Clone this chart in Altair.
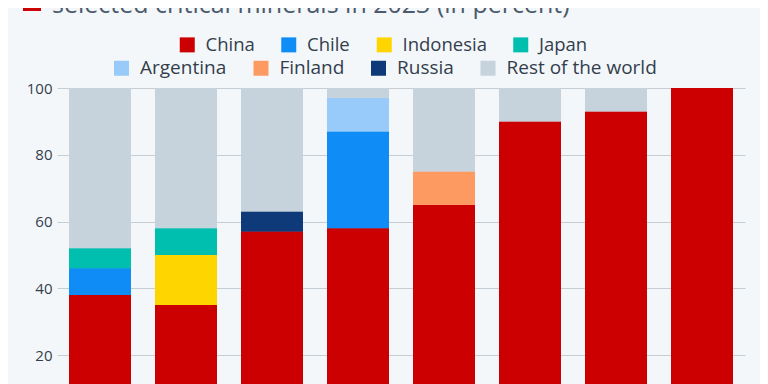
import altair as alt
import pandas as pd

minerals = ["Copper", "Nickel", "Aluminium", "Lithium", "Cobalt", "Rare earths", "Graphite", "Gallium"]
countries = ["China", "Chile", "Indonesia", "Japan", "Argentina", "Finland", "Russia", "Rest of the world"]
colors = ["#cc0000", "#0f8cf5", "#ffd500", "#00bfae", "#99cbfa", "#fd9a61", "#0e3a7a", "#c7d3dc"]

china = [38, 35, 57, 58, 65, 90, 93, 100]
chile = [8, 0, 0, 29, 0, 0, 0, 0]
indonesia = [0, 15, 0, 0, 0, 0, 0, 0]
japan = [6, 8, 0, 0, 0, 0, 0, 0]
argentina = [0, 0, 0, 10, 0, 0, 0, 0]
finland = [0, 0, 0, 0, 10, 0, 0, 0]
russia = [0, 0, 6, 0, 0, 0, 0, 0]
rest = [48, 42, 37, 3, 25, 10, 7, 0]

title_text = "selected critical minerals in 2023 (in percent)"

series = [china, chile, indonesia, japan, argentina, finland, russia, rest]
rows = []
for ci, (c, vals) in enumerate(zip(countries, series)):
    for m, v in zip(minerals, vals):
        if v > 0:
            rows.append({"mineral": m, "country": c, "value": v, "rank": ci})
df = pd.DataFrame(rows)

FONT = "Open Sans"

def bars(legend):
    return alt.Chart(df).mark_bar().encode(
        x=alt.X("mineral:N", sort=minerals, title=None,
                scale=alt.Scale(paddingInner=0.28, paddingOuter=0.14),
                axis=alt.Axis(labelFontSize=15, labelFont=FONT, labelColor="#333e4d",
                              domain=False, ticks=False, labelAngle=0)),
        y=alt.Y("value:Q", stack="zero", title=None,
                scale=alt.Scale(domain=[0, 100]),
                axis=alt.Axis(values=[0, 20, 40, 60, 80, 100], labelFontSize=15, labelFont=FONT,
                              labelColor="#333e4d", domain=False, ticks=False, labelPadding=5,
                              gridColor="#c5cdd5", gridWidth=1)),
        color=alt.Color("country:N", scale=alt.Scale(domain=countries, range=colors), legend=legend),
        order=alt.Order("rank:Q"),
    )

common_leg = dict(title=None, orient="none", direction="horizontal", symbolType="square",
                  symbolSize=225, labelFont=FONT, labelColor="#333e4d",
                  labelOffset=9, symbolStrokeWidth=0)

layer1 = bars(alt.Legend(values=countries[:4], legendX=121, legendY=-52.5,
                         labelFontSize=18.5, columnPadding=24.5, **common_leg))
layer2 = bars(alt.Legend(values=countries[4:], legendX=55, legendY=-29.5,
                         labelFontSize=19, columnPadding=24.5, **common_leg))

square = alt.Chart(pd.DataFrame({"a": [0]})).mark_rect(color="#cc0000").encode(
    x=alt.value(-34), x2=alt.value(-16), y=alt.value(-95), y2=alt.value(-77)
)

title = alt.Chart(pd.DataFrame({"t": [title_text]})).mark_text(
    align="left", baseline="alphabetic", fontSize=25, font=FONT, color="#4c5a6b"
).encode(text="t:N", x=alt.value(-5), y=alt.value(-75.3))

chart = alt.layer(layer1, layer2, square, title).resolve_scale(color="independent").resolve_legend(
    color="independent"
).properties(
    width=688, height=334,
    autosize=alt.AutoSizeParams(type="none"),
    padding={"left": 49, "top": 80, "right": 15, "bottom": 60},
    background="#f4f7fa",
).configure_view(stroke=None)

chart.save("out.html", embed_options={"renderer": "svg", "actions": False})
